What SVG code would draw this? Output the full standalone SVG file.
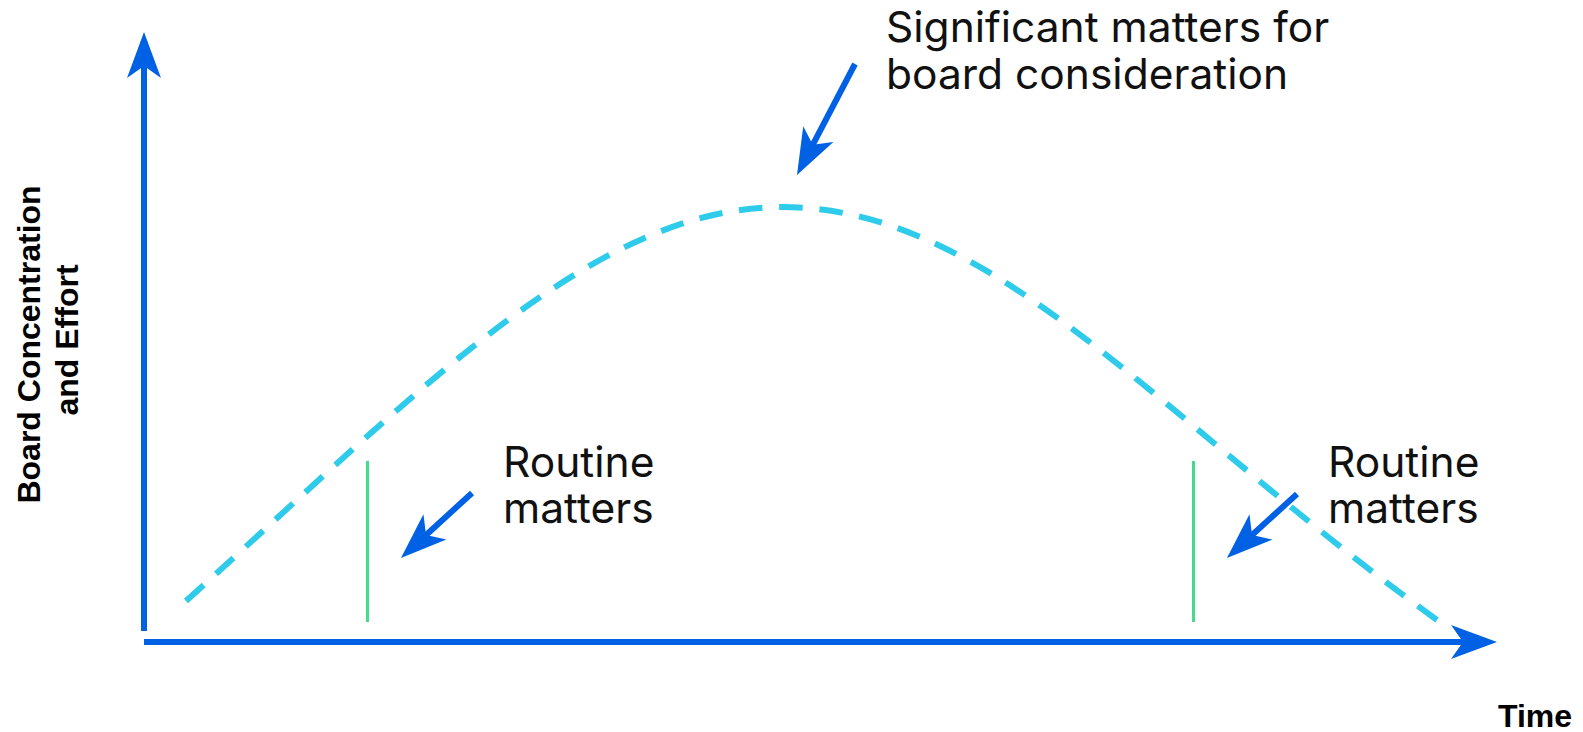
<svg xmlns="http://www.w3.org/2000/svg" width="1583" height="732" viewBox="0 0 1583 732">
  <style>
    .axis { stroke: #0061E4; stroke-width: 6; fill: none; }
    .callout { stroke: #0061E4; stroke-width: 6; fill: none; }
    .curve { stroke: #2ECCEA; stroke-width: 6; fill: none; stroke-dasharray: 24 17; }
    .tick { stroke: #45DB8D; stroke-width: 3; fill: none; }
    .label { font-family: Inter, "Liberation Sans", sans-serif; font-size: 42.5px; fill: #111111; }
    .axislabel { font-family: "Liberation Sans", Arial, sans-serif; font-weight: bold; font-size: 32px; fill: #000000; }
  </style>
  <defs>
    <!-- arrowhead: tip sits 30px beyond the end of the line -->
    <marker id="head" markerUnits="userSpaceOnUse" orient="auto" refX="0" refY="0" markerWidth="1" markerHeight="1" overflow="visible">
      <path d="M30,0 L-16,-17 L-4,0 L-16,17 Z" fill="#0061E4"/>
    </marker>
  </defs>

  <rect width="1583" height="732" fill="#ffffff"/>

  <g id="connectors">
    <line id="y-axis" class="axis" x1="144" y1="631" x2="144" y2="62" marker-end="url(#head)"/>
    <line id="x-axis" class="axis" x1="144" y1="642" x2="1467" y2="642" marker-end="url(#head)"/>
    <!-- pathLength chosen so the dash pattern starts and ends on a dash -->
    <path id="effort-curve" class="curve" pathLength="1541" d="M186,601 C420,390 594,207 782,207 C994,207 1160,420 1437,620"/>
    <line id="tick-left" class="tick" x1="367.5" y1="461" x2="367.5" y2="622"/>
    <line id="tick-right" class="tick" x1="1193.5" y1="461" x2="1193.5" y2="622"/>
    <line id="arrow-significant" class="callout" x1="855" y1="64" x2="810.9" y2="148.4" marker-end="url(#head)"/>
    <line id="arrow-routine-left" class="callout" x1="472" y1="493" x2="423.1" y2="537.7" marker-end="url(#head)"/>
    <line id="arrow-routine-right" class="callout" x1="1297" y1="494" x2="1249.1" y2="537.7" marker-end="url(#head)"/>
  </g>

  <g id="label-significant">
    <text class="label" x="886" y="42">Significant matters for</text>
    <text class="label" x="886" y="89">board consideration</text>
  </g>

  <g id="label-routine-left">
    <text class="label" x="503" y="477">Routine</text>
    <text class="label" x="503" y="523">matters</text>
  </g>

  <g id="label-routine-right">
    <text class="label" x="1328" y="477">Routine</text>
    <text class="label" x="1328" y="523">matters</text>
  </g>

  <g id="label-y-axis">
    <text class="axislabel" transform="translate(40,340) rotate(-90)" text-anchor="middle">
      <tspan x="0" y="0">Board Concentration</tspan>
      <tspan x="0" y="38">and Effort</tspan>
    </text>
  </g>

  <g id="label-x-axis">
    <text class="axislabel" x="1498" y="727">Time</text>
  </g>
</svg>
